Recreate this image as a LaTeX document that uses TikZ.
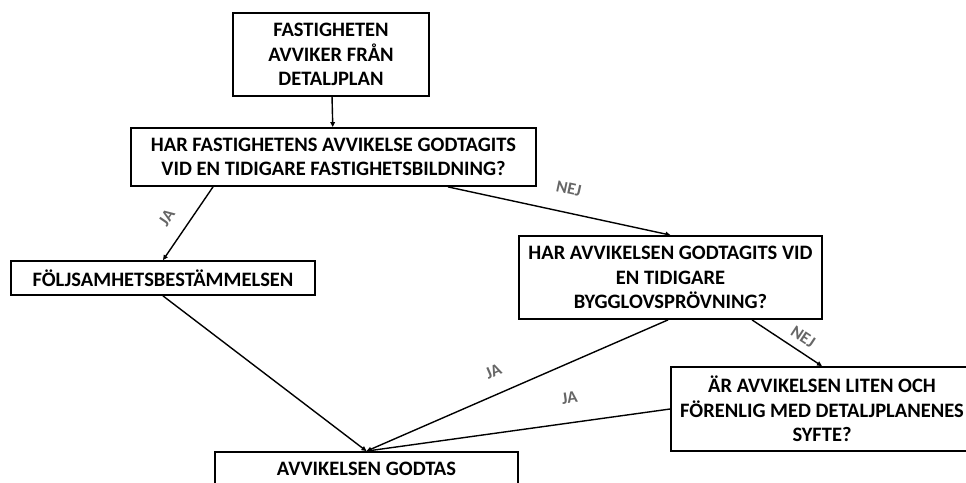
\documentclass[tikz,border=0pt]{standalone}
\usepackage{fontspec}
\setmainfont{Carlito}
\usetikzlibrary{arrows.meta}
\tikzset{basic/.style={draw,fill=none,line width=1.8pt,align=center,
                       inner sep=0pt,font=\fontsize{20.5}{24.5}\selectfont\bfseries}}
\tikzset{step box/.style={basic,rectangle}}
\tikzset{answer/.style={sloped,text=gray!80!black,
                        font=\fontsize{17}{19}\selectfont\bfseries}}
\tikzset{flow/.style={line width=1.4pt,-{Triangle[length=5pt,width=4.5pt]}}}

\begin{document}
\begin{tikzpicture}[x=1pt,y=-1pt]
    \useasboundingbox (0,0) rectangle (966,482);
    % Draw boxes
    \node[step box,minimum width=196pt,minimum height=83pt] (start) at (331,54.5)
        {FASTIGHETEN\\AVVIKER FRÅN\\DETALJPLAN};
    \node[step box,minimum width=405pt,minimum height=58pt] (bildning) at (333.5,157)
        {HAR FASTIGHETENS AVVIKELSE GODTAGITS\\VID EN TIDIGARE FASTIGHETSBILDNING?};
    \node[step box,minimum width=304pt,minimum height=34pt] (foljsam) at (163,278)
        {FÖLJSAMHETSBESTÄMMELSEN};
    \node[step box,minimum width=303pt,minimum height=83pt] (bygglov) at (670.5,277.5)
        {HAR AVVIKELSEN GODTAGITS VID\\EN TIDIGARE\\BYGGLOVSPRÖVNING?};
    \node[step box,minimum width=302pt,minimum height=84pt] (liten) at (822,409)
        {ÄR AVVIKELSEN LITEN OCH\\FÖRENLIG MED DETALJPLANENES\\SYFTE?};
    \node[step box,minimum width=303pt,minimum height=34pt] (godtas) at (366.5,469)
        {AVVIKELSEN GODTAS};
    % Draw edges between boxes
    \draw[flow] (start) -- (bildning);
    \draw[flow] ([xshift=-120.5pt]bildning.south) -- node[answer,pos=0.58,yshift=21pt] {JA} (foljsam.north);
    \draw[flow] ([xshift=114.5pt]bildning.south) -- node[answer,pos=0.52,yshift=24pt] {NEJ} (bygglov.north);
    \draw[flow] (foljsam.south) -- (godtas.north);
    \draw[flow] ([xshift=-2.5pt]bygglov.south) -- node[answer,pos=0.55,yshift=22pt] {JA} (godtas.north);
    \draw[flow] ([xshift=81.5pt]bygglov.south) -- node[answer,pos=0.62,yshift=14pt] {NEJ} (liten.north);
    \draw[flow] (liten.west) -- node[answer,pos=0.32,yshift=25pt] {JA} (godtas.north);
\end{tikzpicture}
\end{document}
